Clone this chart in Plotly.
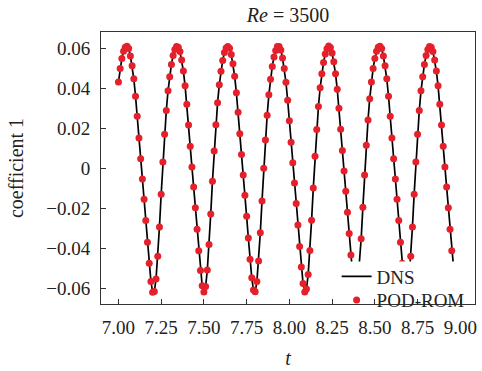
import numpy as np
import plotly.graph_objects as go

# time grid (t = 7.00 ... 8.99, step 0.01)
t_start = 7.00
t_step = 0.01
n_samples = 200

# coefficient 1
dns_coef = [
    0.0433, 0.0501, 0.0551, 0.0587, 0.0607, 0.0612, 0.0600, 0.0563, 0.0514, 0.0449,
    0.0362, 0.0262, 0.0153, 0.0050, -0.0052, -0.0153, -0.0259, -0.0368, -0.0473, -0.0563,
    -0.0617, -0.0614, -0.0551, -0.0438, -0.0291, -0.0128, 0.0034, 0.0172, 0.0291, 0.0389,
    0.0460, 0.0521, 0.0565, 0.0595, 0.0611, 0.0607, 0.0585, 0.0543, 0.0488, 0.0414,
    0.0322, 0.0218, 0.0112, 0.0009, -0.0092, -0.0195, -0.0303, -0.0410, -0.0509, -0.0585,
    -0.0616, -0.0589, -0.0506, -0.0379, -0.0226, -0.0063, 0.0089, 0.0220, 0.0330, 0.0419,
    0.0487, 0.0541, 0.0580, 0.0603, 0.0611, 0.0602, 0.0570, 0.0524, 0.0462, 0.0379,
    0.0282, 0.0175, 0.0071, -0.0032, -0.0133, -0.0238, -0.0346, -0.0452, -0.0545, -0.0606,
    -0.0615, -0.0564, -0.0461, -0.0320, -0.0161, 0.0002, 0.0144, 0.0267, 0.0369,
    0.0447, 0.0511, 0.0558, 0.0591, 0.0610, 0.0610, 0.0593, 0.0553, 0.0501, 0.0432,
    0.0342, 0.0240, 0.0132, 0.0030, -0.0072, -0.0174, -0.0281, -0.0389, -0.0491, -0.0574,
    -0.0616, -0.0601, -0.0528, -0.0409, -0.0258, -0.0096, 0.0062, 0.0196, 0.0311, 0.0404,
    0.0474, 0.0531, 0.0573, 0.0599, 0.0613, 0.0605, 0.0578, 0.0534, 0.0475, 0.0397,
    0.0302, 0.0197, 0.0091, -0.0011, -0.0113, -0.0217, -0.0324, -0.0431, -0.0527, -0.0595,
    -0.0615, -0.0576, -0.0483, -0.0350, -0.0193, -0.0031, 0.0117, 0.0243, 0.0350,
    0.0433, 0.0501, 0.0551, 0.0587, 0.0607, 0.0612, 0.0600, 0.0563, 0.0514, 0.0449,
    0.0362, 0.0262, 0.0153, 0.0050, -0.0052, -0.0153, -0.0259, -0.0368, -0.0473, -0.0563,
    -0.0617, -0.0614, -0.0551, -0.0438, -0.0291, -0.0128, 0.0034, 0.0172, 0.0291, 0.0389,
    0.0460, 0.0521, 0.0565, 0.0595, 0.0611, 0.0607, 0.0585, 0.0543, 0.0488, 0.0414,
    0.0322, 0.0218, 0.0112, 0.0009, -0.0092, -0.0195, -0.0303, -0.0410, -0.0509, -0.0585,
    -0.0616, -0.0589,
]
rom_coef = list(dns_coef)

x_ticks = [7.00, 7.25, 7.50, 7.75, 8.00, 8.25, 8.50, 8.75, 9.00]
x_ticktext = ["7.00", "7.25", "7.50", "7.75", "8.00", "8.25", "8.50", "8.75", "9.00"]
y_ticks = [0.06, 0.04, 0.02, 0.0, -0.02, -0.04, -0.06]
y_ticktext = ["0.06", "0.04", "0.02", "0", "\u22120.02", "\u22120.04", "\u22120.06"]

t = np.round(t_start + t_step * np.arange(n_samples), 2)

FONT = "Liberation Serif"
RED = "#e5202b"
TXT = "#222222"

fig = go.Figure()
fig.add_trace(go.Scatter(
    x=t, y=dns_coef, mode="lines", name="DNS",
    line=dict(color="black", width=1.7), legend="legend",
))
fig.add_trace(go.Scatter(
    x=t, y=rom_coef, mode="markers", name="POD-ROM",
    marker=dict(color=RED, size=7, line=dict(width=0)), legend="legend2",
))

axis_common = dict(
    showline=True, linecolor="#333333", linewidth=1, mirror=True,
    ticks="inside", ticklen=5, tickwidth=1, tickcolor="#333333",
    showgrid=False, zeroline=False,
    tickfont=dict(family=FONT, size=19, color=TXT),
)

# white backdrop behind the legend (as in the reference, it hides the curves)
fig.add_shape(type="rect", xref="paper", yref="paper",
              x0=0.635, x1=0.997, y0=0.024, y1=0.156,
              fillcolor="white", line=dict(width=0), layer="above")

fig.update_layout(
    width=482, height=371,
    margin=dict(l=101, r=5, t=32, b=59),
    paper_bgcolor="white", plot_bgcolor="white",
    title=dict(text="<i>Re</i> = 3500", x=0.5, xref="paper", y=1 - 15 / 371,
               yanchor="middle", xanchor="center",
               font=dict(family=FONT, size=20, color=TXT)),
    xaxis=dict(range=[6.898, 9.086], tickvals=x_ticks, ticktext=x_ticktext,
               title=dict(text="<i>t</i>", font=dict(family=FONT, size=20, color=TXT),
                          standoff=14),
               ticklabelstandoff=6,
               **axis_common),
    yaxis=dict(range=[-0.0676, 0.0683], tickvals=y_ticks, ticktext=y_ticktext,
               title=dict(text="coefficient 1", font=dict(family=FONT, size=20, color=TXT),
                          standoff=17),
               ticklabelstandoff=6,
               **axis_common),
    legend=dict(x=0.63, y=0.101, xanchor="left", yanchor="middle",
                bgcolor="rgba(0,0,0,0)", borderwidth=0,
                font=dict(family=FONT, size=19, color=TXT)),
    legend2=dict(x=0.63, y=0.014, xanchor="left", yanchor="middle",
                 bgcolor="rgba(0,0,0,0)", borderwidth=0,
                 font=dict(family=FONT, size=19, color=TXT)),
    showlegend=True,
)

fig.write_html("out.html")
